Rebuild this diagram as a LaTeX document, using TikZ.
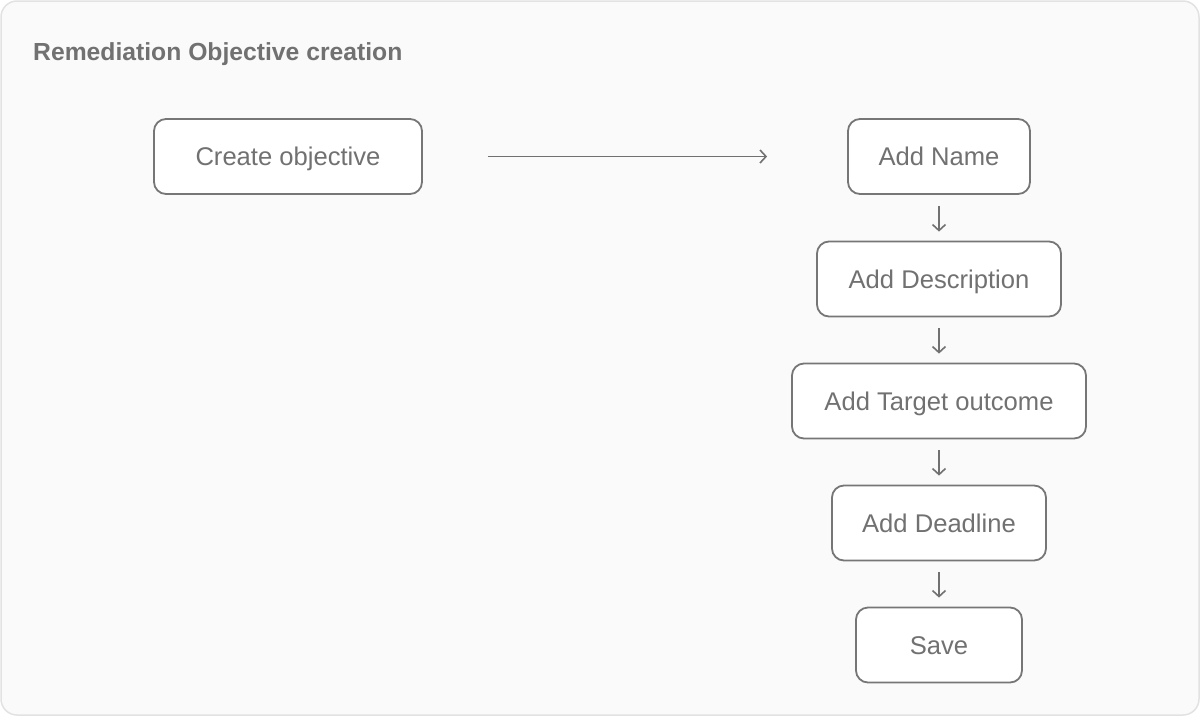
\documentclass[tikz,border=0pt]{standalone}
\usepackage{fontspec}
\setmainfont{Liberation Sans}
\usetikzlibrary{arrows.meta}
\definecolor{txt}{HTML}{717171}
\definecolor{boxline}{HTML}{767676}
\definecolor{frame}{HTML}{E2E2E2}
\definecolor{bg}{HTML}{FAFAFA}
\begin{document}
\begin{tikzpicture}[x=1pt,y=-1pt,
  stepbox/.style={draw=boxline, line width=1.8pt, rounded corners=12pt, fill=white,
    minimum height=75pt, inner sep=0pt, text=txt, font=\fontsize{25.6}{28}\selectfont,
    text height=18pt, text depth=0pt},
  flow/.style={draw=txt, line width=1.8pt, -{Straight Barb[length=6pt,width=13pt,line width=1.6pt]}}
]
\useasboundingbox (0,0) rectangle (1200,716);
\draw[draw=frame, fill=bg, line width=1.5pt, rounded corners=16pt] (1,1) rectangle (1199,715);
\node[anchor=base west, text=txt, font=\bfseries\fontsize{24.7}{28}\selectfont, inner sep=0pt] (title) at (33,60.5) {Remediation Objective creation};
\node[stepbox, minimum width=268pt] (create) at (288,156.5) {Create objective};
\node[stepbox, minimum width=182pt] (name) at (939,156.5) {Add Name};
\node[stepbox, minimum width=244pt] (desc) at (939,279) {Add Description};
\node[stepbox, minimum width=294pt] (target) at (939,401) {Add Target outcome};
\node[stepbox, minimum width=214pt] (deadline) at (939,523) {Add Deadline};
\node[stepbox, minimum width=166pt] (save) at (939,645) {Save};
\draw[flow, shorten <=65pt, shorten >=80pt] (create.east) -- (name.west);
\draw[flow, shorten <=11pt, shorten >=9pt] (name.south) -- (desc.north);
\draw[flow, shorten <=11pt, shorten >=9pt] (desc.south) -- (target.north);
\draw[flow, shorten <=11pt, shorten >=9pt] (target.south) -- (deadline.north);
\draw[flow, shorten <=11pt, shorten >=9pt] (deadline.south) -- (save.north);
\end{tikzpicture}
\end{document}
